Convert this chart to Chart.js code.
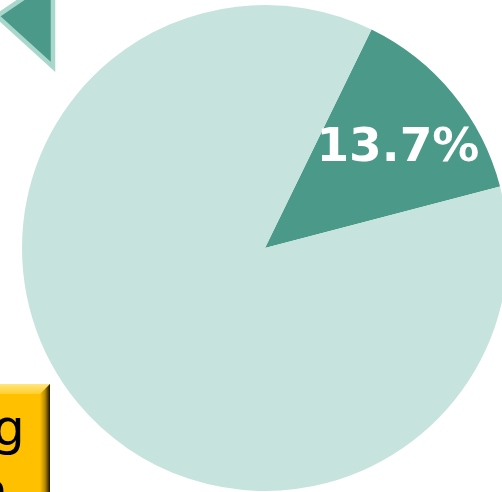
<!DOCTYPE html>
<html>
<head>
<meta charset="utf-8">
<script src="https://cdn.jsdelivr.net/npm/chart.js@4/dist/chart.umd.min.js"></script>
<style>
  html, body { margin: 0; padding: 0; width: 502px; height: 492px; overflow: hidden; background: #ffffff; }
  #wrap { position: absolute; left: 0; top: 0; width: 530px; height: 496px; }
  #tri { position: absolute; left: 0; top: 0; }
  #box { position: absolute; left: -60px; top: 384px; width: 110px; height: 130px; overflow: hidden; }
  .ltr { position: absolute; font-family: "DejaVu Sans", Verdana, sans-serif; font-size: 50px; color: #000; line-height: 1; }
</style>
</head>
<body>
<div id="wrap"><canvas id="c" width="530" height="496"></canvas></div>
<svg id="tri" width="70" height="80" viewBox="0 0 70 80">
  <polygon points="53,-22 53,67 -3,16" fill="#4B9A89" stroke="#A9D7CC" stroke-width="4.5" stroke-linejoin="miter"/>
</svg>
<div id="box">
  <svg width="110" height="130" style="position:absolute;left:0;top:0">
    <defs>
      <linearGradient id="side" x1="0" x2="1" y1="0" y2="0">
        <stop offset="0" stop-color="#FFC000"/>
        <stop offset="0.5" stop-color="#B88A00"/>
        <stop offset="1" stop-color="#1a1400"/>
      </linearGradient>
      <linearGradient id="topb" x1="0" x2="0" y1="0" y2="1">
        <stop offset="0" stop-color="#FFE680"/>
        <stop offset="1" stop-color="#FFCF2A"/>
      </linearGradient>
    </defs>
    <rect x="0" y="0" width="110" height="130" fill="#FFC000"/>
    <polygon points="0,0 110,0 100,10 0,10" fill="url(#topb)"/>
    <polygon points="100,10 110,0 110,130 100,130" fill="url(#side)"/>
  </svg>
  <div class="ltr" id="g1" style="left:53px; top:19px;">g</div>
  <div class="ltr" id="n1" style="left:36px; top:82px;">n</div>
</div>
<script>
const categories = ["Share", "Rest"];
const values = [13.7, 86.3];
const labels = ["13.7%", ""];
const colors = ["#4B9A89", "#C7E3DE"];

const labelPlugin = {
  id: "sliceLabels",
  afterDatasetsDraw(chart) {
    const ctx = chart.ctx;
    const meta = chart.getDatasetMeta(0);
    meta.data.forEach((arc, i) => {
      if (!labels[i]) return;
      const p = arc.getProps(["x", "y", "startAngle", "endAngle", "outerRadius"], true);
      const mid = (p.startAngle + p.endAngle) / 2;
      const r = p.outerRadius * 0.67;
      const x = p.x + Math.cos(mid) * r + 7;
      const y = p.y + Math.sin(mid) * r + 4;
      ctx.save();
      ctx.fillStyle = "#ffffff";
      ctx.font = "bold 47px 'DejaVu Sans', Verdana, sans-serif";
      ctx.textAlign = "center";
      ctx.textBaseline = "middle";
      ctx.fillText(labels[i], x, y);
      ctx.restore();
    });
  }
};

new Chart(document.getElementById("c"), {
  type: "pie",
  data: {
    labels: categories,
    datasets: [{ data: values, backgroundColor: colors, borderWidth: 0 }]
  },
  options: {
    responsive: false,
    animation: false,
    rotation: 26,
    layout: { padding: 5 },
    plugins: { legend: { display: false }, tooltip: { enabled: false } }
  },
  plugins: [labelPlugin]
});
</script>
</body>
</html>
